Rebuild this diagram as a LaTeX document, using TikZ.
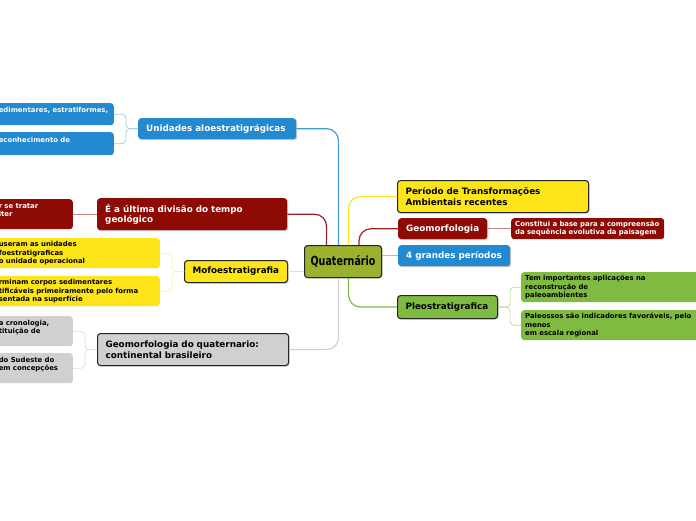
\documentclass[tikz,border=0pt]{standalone}
\usepackage{fontspec}
\setmainfont{DejaVu Sans}
\newfontfamily\condfont{DejaVu Sans Condensed}
\usetikzlibrary{shadows}

\definecolor{azul}{HTML}{2389D1}
\definecolor{vinho}{HTML}{8E0B05}
\definecolor{amarelo}{HTML}{FDE51A}
\definecolor{cinza}{HTML}{D0D0D0}
\definecolor{verde}{HTML}{80BB41}
\definecolor{oliva}{HTML}{9CB12D}

\tikzset{
  caixa/.style={rounded corners=3pt, font=\bfseries\fontsize{8.8}{10.5}\selectfont,
    align=left, inner xsep=8pt, inner ysep=2pt, anchor=north west},
  sombra/.style={drop shadow={shadow xshift=1pt, shadow yshift=-1pt, opacity=0.35, fill=black!60}},
  borda/.style={draw=black!85, line width=1.1pt},
  folha/.style={rounded corners=3pt, font=\bfseries\fontsize{6.9}{8.5}\selectfont,
    align=left, inner xsep=4pt, inner ysep=1pt},
  ramo/.style={line width=1.2pt, rounded corners=12pt},
  galho/.style={line width=0.7pt, rounded corners=4pt}
}

\begin{document}
\begin{tikzpicture}[x=1pt, y=-1pt]
  \fill[white] (0,0) rectangle (696,520);
  \useasboundingbox (0,0) rectangle (696,520);

  % no central
  \node[caixa, borda, sombra, fill=oliva, minimum width=77pt, minimum height=32pt, align=center,
        font=\condfont\bfseries\fontsize{12.5}{14}\selectfont, inner xsep=2pt] (root) at (304,245) {\scalebox{0.85}[1]{Quaternário}};

  % lado esquerdo
  \node[caixa, sombra, fill=azul, text=white, text width=142pt, minimum height=21pt] (unid) at (138,118) {Unidades aloestratigrágicas};
  \node[caixa, sombra, fill=vinho, text=white, text width=174pt, minimum height=32pt] (ultima) at (97,198) {É a última divisão do tempo\\geológico};
  \node[caixa, borda, sombra, fill=amarelo, text width=87pt, minimum height=22pt] (mofo) at (184,260) {Mofoestratigrafia};
  \node[caixa, borda, sombra, fill=cinza, text width=175pt, minimum height=32pt] (geoq) at (97,333) {Geomorfologia do quaternario:\\continental brasileiro};

  % lado direito
  \node[caixa, borda, sombra, fill=amarelo, text width=175pt, minimum height=32pt] (periodo) at (397,180) {Período de Transformações\\Ambientais recentes};
  \node[caixa, sombra, fill=vinho, text=white, text width=73pt, minimum height=21pt] (geomorf) at (398,218) {Geomorfologia};
  \node[caixa, sombra, fill=azul, text=white, text width=96pt, minimum height=21pt] (grandes) at (398,245) {4 grandes períodos};
  \node[caixa, borda, sombra, fill=verde, text width=84pt, minimum height=23pt] (pleo) at (397,295) {Pleostratigrafica};

  % folhas
  \node[folha, fill=azul, text=white, anchor=north east, text width=111pt, minimum height=22pt] (unid1) at (114,103) {edimentares, estratiformes,\\\mbox{}};
  \node[folha, fill=azul, text=white, anchor=north east, text width=111pt, minimum height=23pt] (unid2) at (114,132) {econhecimento de\\\mbox{}};
  \node[folha, fill=vinho, text=white, anchor=north east, text width=70pt, minimum height=30pt] (ultima1) at (73,199) {r se tratar\\iter\\\mbox{}};
  \node[folha, fill=amarelo, anchor=north east, text width=157pt, minimum height=30pt] (mofo1) at (160,238) {useram as unidades\\foestratigraficas\\o unidade operacional};
  \node[folha, fill=amarelo, anchor=north east, text width=157pt, minimum height=30pt] (mofo2) at (160,276) {rminam corpos sedimentares\\tificáveis primeiramente pelo forma\\sentada na superfície};
  \node[folha, fill=cinza, anchor=north east, text width=70pt, minimum height=30pt] (geoq1) at (73,316) {a cronologia,\\tituição de\\\mbox{}};
  \node[folha, fill=cinza, anchor=north east, text width=70pt, minimum height=30pt] (geoq2) at (73,353) {do Sudeste do\\em concepções\\\mbox{}};
  \node[folha, fill=vinho, text=white, anchor=north west, text width=145pt, minimum height=21pt] (geomorfc) at (511,218) {Constitui a base para a compreensão\\da sequência evolutiva da paisagem};
  \node[folha, fill=verde, anchor=north west, text width=192pt, minimum height=30pt] (pleo1) at (521,272) {Tem importantes aplicações na\\reconstrução de\\paleoambientes};
  \node[folha, fill=verde, anchor=north west, text width=192pt, minimum height=30pt] (pleo2) at (521,310) {Paleossos são indicadores favoráveis, pelo\\menos\\em escala regional};

  % ramos principais
  \draw[ramo, azul!85] ([xshift=-4.5pt]root.north) |- (unid.east);
  \draw[ramo, vinho!90] ([xshift=-16.5pt]root.north) |- (ultima.east);
  \draw[ramo, amarelo!80!white] (mofo.east) -- (mofo.east -| root.west);
  \draw[ramo, cinza] ([xshift=-4.5pt]root.south) |- (geoq.east);
  \draw[ramo, amarelo] ([xshift=5.5pt]root.north) |- (periodo.west);
  \draw[ramo, vinho!90] ([xshift=16pt]root.north) |- (geomorf.west);
  \draw[ramo, azul!50] (grandes.west -| root.east) -- (grandes.west);
  \draw[ramo, verde] ([xshift=5.5pt]root.south) |- (pleo.west);

  % galhos
  \draw[galho, azul!45] (unid.west) -- ++(-12,0) |- (unid1.east);
  \draw[galho, azul!45] (unid.west) -- ++(-12,0) |- (unid2.east);
  \draw[galho, vinho!50] (ultima.west) -- (ultima1.east);
  \draw[galho, amarelo!45] (mofo.west) -- ++(-12,0) |- (mofo1.east);
  \draw[galho, amarelo!45] (mofo.west) -- ++(-12,0) |- (mofo2.east);
  \draw[galho, cinza!70] (geoq.west) -- ++(-12,0) |- (geoq1.east);
  \draw[galho, cinza!70] (geoq.west) -- ++(-12,0) |- (geoq2.east);
  \draw[galho, vinho!50] (geomorf.east) -- (geomorfc.west);
  \draw[galho, verde!55] (pleo.east) -- ++(12,0) |- (pleo1.west);
  \draw[galho, verde!55] (pleo.east) -- ++(12,0) |- (pleo2.west);
\end{tikzpicture}
\end{document}
